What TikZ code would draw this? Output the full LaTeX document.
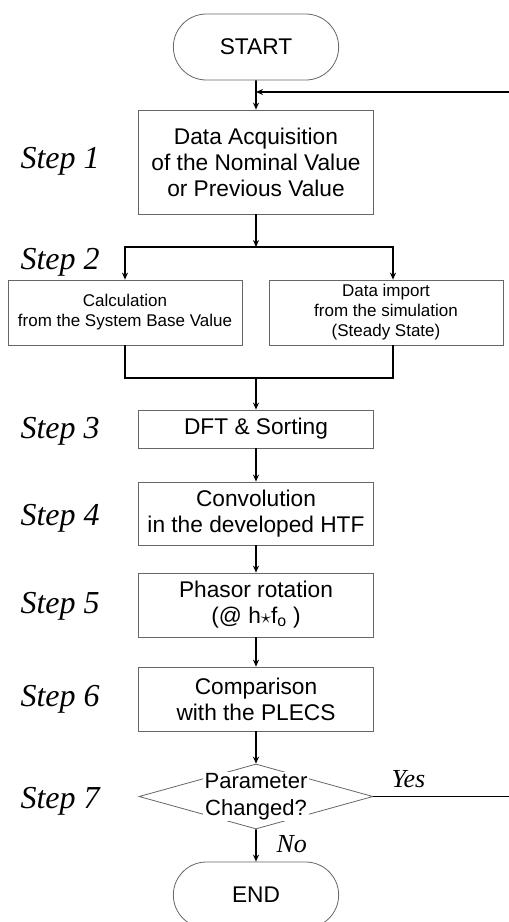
\documentclass[tikz,border=0pt]{standalone}
\usepackage{fontspec}
\setmainfont{Liberation Sans}
\newfontfamily\stepfont{Liberation Serif}
\usetikzlibrary{arrows.meta,shapes.geometric,shapes.misc}

\begin{document}
\begin{tikzpicture}[x=1pt,y=-1pt,>={Stealth[length=7pt,width=6pt]},
    flow/.style={line width=1.7pt},
    box/.style={draw=black!60,line width=0.8pt,align=center,inner sep=0pt,
        minimum width=235pt,font=\fontsize{22.7}{26}\selectfont},
    smallbox/.style={box,minimum width=234pt,minimum height=65pt,
        font=\fontsize{17}{20}\selectfont},
    term/.style={draw=black!60,line width=0.8pt,rounded rectangle,
        minimum width=172pt,minimum height=66pt,font=\fontsize{22.7}{26}\selectfont},
    steplab/.style={anchor=base west,font=\stepfont\itshape\fontsize{32}{32}\selectfont},
    answer/.style={anchor=base west,font=\stepfont\itshape\fontsize{26}{26}\selectfont}]
    \useasboundingbox (0,0) rectangle (509,922);

    % Blocks of the procedure.
    \node[term] (start) at (256,47) {START};
    \node[box,minimum height=104pt] (acq) at (256,162)
        {Data Acquisition\\of the Nominal Value\\or Previous Value};
    \node[smallbox] (calc) at (125,312.5) {Calculation\\from the System Base Value};
    \node[smallbox] (imp) at (386,312.5) {Data import\\from the simulation\\(Steady State)};
    \node[box,minimum height=38pt] (dft) at (256,429) {DFT \& Sorting};
    \node[box,minimum height=63pt] (conv) at (256,513.5) {Convolution\\in the developed HTF};
    \node[box,minimum height=64pt] (phas) at (256,605)
        {Phasor rotation\\(@ h$\star$f\textsubscript{o} )};
    \node[box,minimum height=64pt] (comp) at (256,699) {Comparison\\with the PLECS};
    \node[diamond,draw=black!60,line width=0.8pt,inner sep=0pt,
        minimum width=234pt,minimum height=65pt] (chg) at (256,796.5) {};
    \node[fill=white,inner sep=1.5pt,align=center,
        font=\fontsize{22}{27}\selectfont] (chgtxt) at (chg) {Parameter\\Changed?};
    \node[term] (end) at (256,895) {END};

    % Step labels.
    \node[steplab] (s1) at (17,168) {Step 1};
    \node[steplab] (s2) at (17,269) {Step 2};
    \node[steplab] (s3) at (17,438) {Step 3};
    \node[steplab] (s4) at (17,525) {Step 4};
    \node[steplab] (s5) at (17,613) {Step 5};
    \node[steplab] (s6) at (17,706) {Step 6};
    \node[steplab] (s7) at (17,808) {Step 7};

    % Connectors.
    \coordinate (loop) at (256,92);
    \coordinate (split) at (256,247);
    \coordinate (merge) at (256,378);
    \coordinate (yesR) at (511,796.5);
    \draw[flow,->] (start) -- (acq);
    \draw[flow,->] (acq) -- (split);
    \draw[flow,->] (split) -| (calc.north);
    \draw[flow,->] (split) -| ([xshift=7pt]imp.north);
    \draw[flow] (calc.south) |- (merge) -| ([xshift=7pt]imp.south);
    \draw[flow,->] (merge) -- (dft);
    \draw[flow,->] (dft) -- (conv);
    \draw[flow,->] (conv) -- (phas);
    \draw[flow,->] (phas) -- (comp);
    \draw[flow,->] (comp) -- (chg);
    \draw[flow,->] (chg) -- (end);
    \draw[flow,->] (chg.east) -- (yesR) |- (loop);
    \node[answer] (yes) at (388,787) {Yes};
    \node[answer] (no) at (273,852) {No};
\end{tikzpicture}
\end{document}
